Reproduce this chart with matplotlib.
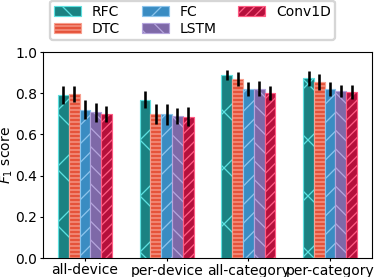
import matplotlib.pyplot as plt
import numpy as np

categories = ["all-device", "per-device", "all-category", "per-category"]
models = ["RFC", "DTC", "FC", "LSTM", "Conv1D"]

rfc = [0.79, 0.768, 0.887, 0.872]
dtc = [0.796, 0.70, 0.870, 0.854]
fc = [0.72, 0.697, 0.819, 0.82]
lstm = [0.707, 0.69, 0.822, 0.81]
conv1d = [0.70, 0.686, 0.80, 0.806]

rfc_err = [0.044, 0.042, 0.024, 0.036]
dtc_err = [0.040, 0.050, 0.033, 0.037]
fc_err = [0.045, 0.050, 0.034, 0.033]
lstm_err = [0.047, 0.040, 0.035, 0.030]
conv1d_err = [0.040, 0.047, 0.035, 0.035]

values = [rfc, dtc, fc, lstm, conv1d]
errors = [rfc_err, dtc_err, fc_err, lstm_err, conv1d_err]

face = ["#1a8282", "#e5533a", "#3a8cc2", "#7e69a8", "#b5103c"]
edge = ["#5de0e0", "#f7a090", "#8cc4ec", "#b4a4dc", "#ff5c84"]
hatches = ["x", "-------", "///", "\\\\\\", "//////"]

# render at a higher dpi so hatches come out as coarse as in the reference
DPI = 168
P = 72 / DPI          # one pixel in points
fs = 13.9 * P         # ~10pt text at 100 dpi

plt.rcParams["hatch.linewidth"] = 0.55
plt.rcParams["axes.linewidth"] = 1.1 * P
plt.rcParams["xtick.major.width"] = 1.1 * P
plt.rcParams["ytick.major.width"] = 1.1 * P
plt.rcParams["xtick.major.size"] = 3.0 * P
plt.rcParams["ytick.major.size"] = 3.0 * P
plt.rcParams["xtick.major.pad"] = 2.5 * P
plt.rcParams["ytick.major.pad"] = 3.0 * P

fig, ax = plt.subplots(figsize=(374 / DPI, 277 / DPI), dpi=DPI)
x = np.arange(len(categories))
w = 0.132
for i, m in enumerate(models):
    pos = x + (i - 2) * w
    ax.bar(pos, values[i], w, label=m, color=face[i], edgecolor=edge[i],
           hatch=hatches[i], linewidth=0.5)
    ax.errorbar(pos, values[i], yerr=errors[i], fmt="none", ecolor="black",
                elinewidth=2.6 * P, capsize=0)

ax.set_ylim(0, 1.0)
ax.set_yticks([0.0, 0.2, 0.4, 0.6, 0.8, 1.0])
ax.set_xticks(x)
ax.set_xticklabels(categories, fontsize=fs)
ax.tick_params(axis="y", labelsize=fs)
ax.set_ylabel("$F_1$ score", fontsize=fs)
ax.yaxis.set_label_coords(-0.085, 0.5)

fig.subplots_adjust(left=43 / 374, right=372 / 374, top=1 - 52 / 277,
                    bottom=1 - 258 / 277)
fig.legend(ncol=3, loc="upper left", bbox_to_anchor=(50 / 374, 1 - 0.5 / 277),
           borderaxespad=0, fontsize=fs, handlelength=1.95, handleheight=0.75,
           handletextpad=0.77, columnspacing=1.55, borderpad=0.3,
           labelspacing=0.22, frameon=True)

plt.savefig("out.png", dpi=DPI)
plt.close()
